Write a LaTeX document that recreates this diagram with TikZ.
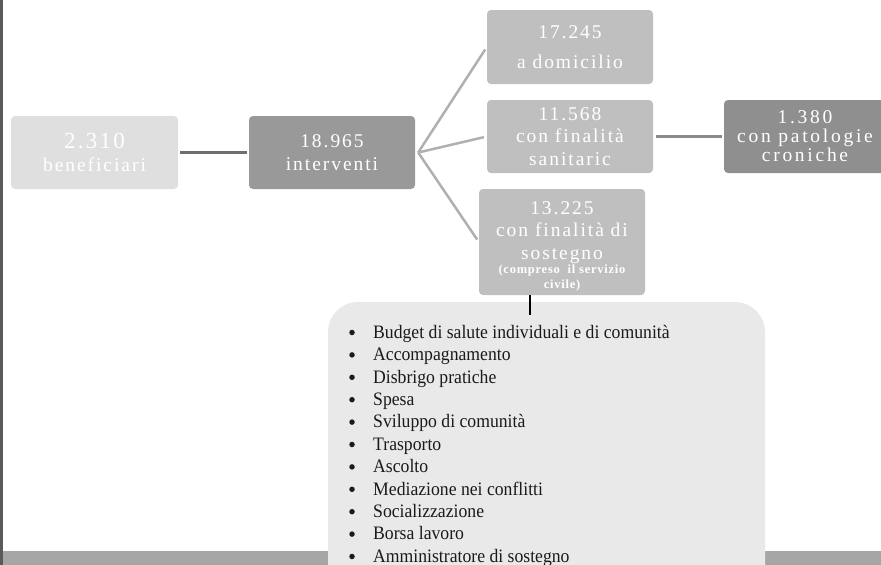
\documentclass[tikz,border=0pt]{standalone}
\usepackage{fontspec}
\usepackage{graphicx}
\setmainfont{Liberation Serif}
\newfontfamily\boxfont[LetterSpace=10]{Liberation Serif}
\newfontfamily\boxfontw[LetterSpace=14]{Liberation Serif}
\newfontfamily\boxfontn[LetterSpace=6]{Liberation Serif}
\definecolor{benfill}{HTML}{DFDFDF}
\definecolor{intfill}{HTML}{999999}
\definecolor{midfill}{HTML}{BFBFBF}
\definecolor{patfill}{HTML}{8F8F8F}
\definecolor{listfill}{HTML}{E9E9E9}
\definecolor{barfill}{HTML}{A6A6A6}
\definecolor{borderc}{HTML}{5A5A5A}
\definecolor{connA}{HTML}{6E6E6E}
\definecolor{connB}{HTML}{B0B0B0}
\definecolor{connC}{HTML}{8A8A8A}
\definecolor{listtext}{HTML}{1A1A1A}
\begin{document}
\begin{tikzpicture}[x=1pt,y=-1pt,
  box/.style={rounded corners=4pt, minimum width=166pt, minimum height=73pt,
    inner sep=0pt, align=center, text=white, font=\boxfont\fontsize{19.5}{22.5}\selectfont},
  boxtext/.style={inner sep=0pt, align=center, text=white, font=\boxfont\fontsize{19.5}{22.5}\selectfont},
  listbox/.style={fill=listfill, rounded corners=30pt, inner sep=0pt,
    minimum width=437pt, minimum height=300pt},
  item/.style={anchor=base west, inner sep=0pt, text=listtext,
    font=\fontsize{19}{22}\selectfont},
  bul/.style={circle, fill=listtext, inner sep=0pt, minimum size=5.5pt},
  connmain/.style={draw=connA, line width=3pt},
  connfan/.style={draw=connB, line width=2.5pt},
  connside/.style={draw=connC, line width=3pt},
  connlist/.style={draw=black, line width=2pt}]
\useasboundingbox (0,0) rectangle (881,565);
\clip (0,0) rectangle (881,565);
% frame decorations
\fill[borderc] (0,0) rectangle (2.5,565);
\fill[barfill] (2.5,551) rectangle (881,565);

% boxes
\node[box, fill=benfill, minimum width=167pt] (ben) at (94.5,152.5)
  {{\fontsize{23}{23}\selectfont 2.310}\\ beneficiari};
\node[box, fill=intfill] (int) at (332,152.5) {18.965\\ interventi};
\node[box, fill=midfill, minimum height=74pt] (dom) at (570,47) {17.245\\[8pt] a domicilio};
\node[box, fill=midfill] (san) at (570,136.5) {11.568\\ con finalità\\ sanitaric};
\node[box, fill=patfill, minimum width=170pt] (pat) at (809,136.5) {};
\node[boxtext, font=\boxfontw\fontsize{19.5}{19}\selectfont] (pattxt) at (805,136.5)
  {1.380\\ con patologie\\ croniche};
\node[box, fill=midfill, minimum height=106pt] (sos) at (562,242) {};
\node[boxtext] (sostxt) at (562,246)
  {13.225\\ con finalità di\\ sostegno\\[-8pt]
   {\bfseries\boxfontn\fontsize{12.5}{14}\selectfont (compreso~ il servizio}\\[-8pt]
   {\bfseries\boxfontn\fontsize{12.5}{14}\selectfont civile)}};

% list box
\node[listbox] (lst) at (546.5,452) {};

% connectors
\draw[connmain] ([xshift=2pt]ben.east) -- ([xshift=-2pt]int.west);
\coordinate (hub) at ([xshift=3pt]int.east);
\draw[connfan, shorten >=3pt] (hub) -- (dom.west);
\draw[connfan, shorten >=3pt] (hub) -- (san.west);
\draw[connfan, shorten >=3pt] (hub) -- (sos.west);
\draw[connside] ([xshift=3pt]san.east) -- ([xshift=-2pt]pat.west);
\coordinate (lk) at (530,315);
\draw[connlist] (lk |- sos.south) -- (lk);

% list items
\foreach \t [count=\i from 0] in {Budget di salute individuali e di comunità,
  Accompagnamento, Disbrigo pratiche, Spesa, Sviluppo di comunità, Trasporto,
  Ascolto, Mediazione nei conflitti, Socializzazione, Borsa lavoro,
  Amministratore di sostegno}{
  \node[bul] (b\i) at (352,332.5+22.4*\i) {};
  \node[item] (t\i) at (373,338.3+22.4*\i) {\scalebox{0.93}[1]{\t}};
}
\end{tikzpicture}
\end{document}
